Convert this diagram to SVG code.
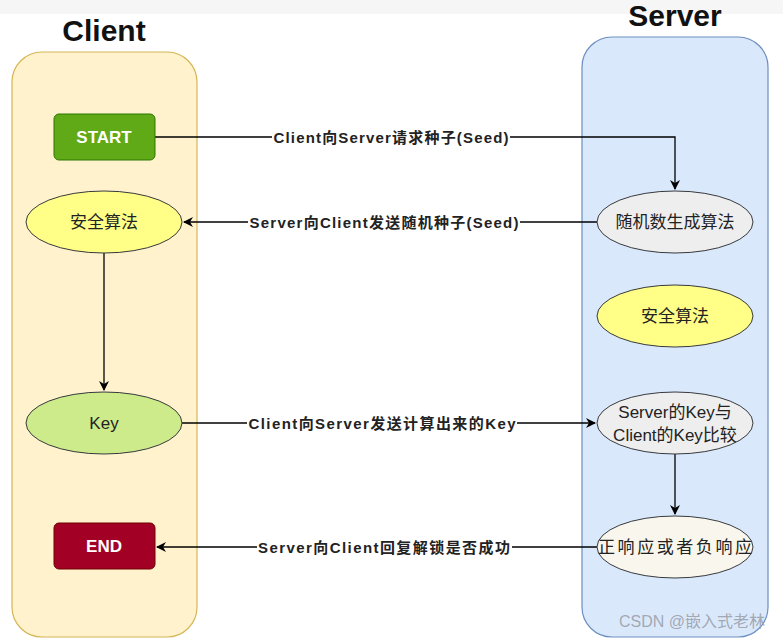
<svg xmlns="http://www.w3.org/2000/svg" width="783" height="640" viewBox="0 0 783 640">
<style>
.title{font-family:"Liberation Sans",Arial,sans-serif;font-weight:bold;font-size:30px;fill:#111;text-anchor:middle}
.node{font-family:"Liberation Sans","Noto Sans CJK SC",sans-serif;font-size:17px;fill:#222;text-anchor:middle;dominant-baseline:central}
.btn{font-family:"Liberation Sans",Arial,sans-serif;font-weight:bold;font-size:17px;fill:#fff;text-anchor:middle;dominant-baseline:central}
.lbl{font-family:"Liberation Sans","Noto Sans CJK SC",sans-serif;font-weight:bold;font-size:15px;fill:#222;text-anchor:middle;dominant-baseline:central}
.conn{fill:none;stroke:#000;stroke-width:1.3}
.lblbg{fill:#fff}
.ell{stroke:#36393d;stroke-width:1}
</style>
<defs>
<marker id="arr" viewBox="0 0 10 10" refX="9" refY="5" markerWidth="10" markerHeight="10" markerUnits="userSpaceOnUse" orient="auto">
<path d="M0,0 L10,5 L0,10 L3,5 Z" fill="#000"/>
</marker>
</defs>
<rect x="0" y="0" width="783" height="640" fill="#fff"/>
<rect x="0" y="0" width="783" height="14" fill="#f6f6f6"/>
<g id="lane-client">
<rect x="12" y="52" width="185" height="585" rx="30" fill="#fff2cc" stroke="#d6b656" stroke-width="1.2"/>
<text class="title" x="104" y="41">Client</text>
</g>
<g id="lane-server">
<rect x="582" y="37" width="186" height="600" rx="30" fill="#dae8fc" stroke="#6c8ebf" stroke-width="1.2"/>
<text class="title" x="675" y="26">Server</text>
</g>
<g id="connectors">
<path class="conn" d="M155,137 H675 V189" marker-end="url(#arr)"/>
<rect class="lblbg" x="272" y="129" width="238" height="16"/>
<text class="lbl" x="391" y="137" textLength="235" lengthAdjust="spacing">Client向Server请求种子(Seed)</text>
<path class="conn" d="M597,222 H184" marker-end="url(#arr)"/>
<rect class="lblbg" x="248" y="214" width="272" height="16"/>
<text class="lbl" x="384" y="222" textLength="269" lengthAdjust="spacing">Server向Client发送随机种子(Seed)</text>
<path class="conn" d="M104,253 V390" marker-end="url(#arr)"/>
<path class="conn" d="M182,423 H595" marker-end="url(#arr)"/>
<rect class="lblbg" x="247" y="415" width="270" height="16"/>
<text class="lbl" x="382" y="423" textLength="267" lengthAdjust="spacing">Client向Server发送计算出来的Key</text>
<path class="conn" d="M675,454 V514" marker-end="url(#arr)"/>
<path class="conn" d="M597,547 H157" marker-end="url(#arr)"/>
<rect class="lblbg" x="257" y="539" width="255" height="16"/>
<text class="lbl" x="384" y="547" textLength="252" lengthAdjust="spacing">Server向Client回复解锁是否成功</text>
</g>
<g id="start">
<rect x="54" y="114" width="101" height="46" rx="5" fill="#60a917" stroke="#2d7600"/>
<text class="btn" x="104" y="137">START</text>
</g>
<g id="client-algo">
<ellipse class="ell" cx="104" cy="222" rx="78" ry="31" fill="#ffff88"/>
<text class="node" x="104" y="222">安全算法</text>
</g>
<g id="key">
<ellipse class="ell" cx="104" cy="423" rx="78" ry="31" fill="#cdeb8b"/>
<text class="node" x="104" y="423">Key</text>
</g>
<g id="end">
<rect x="54" y="523" width="101" height="46" rx="5" fill="#a20025" stroke="#6f0000"/>
<text class="btn" x="104" y="546">END</text>
</g>
<g id="random-gen">
<ellipse class="ell" cx="675" cy="222" rx="78" ry="31" fill="#eeeeee"/>
<text class="node" x="675" y="222">随机数生成算法</text>
</g>
<g id="server-algo">
<ellipse class="ell" cx="675" cy="316" rx="78" ry="31" fill="#ffff88"/>
<text class="node" x="675" y="316">安全算法</text>
</g>
<g id="compare">
<ellipse class="ell" cx="675" cy="423" rx="78" ry="31" fill="#eeeeee"/>
<text class="node" x="675" y="412">Server的Key与</text>
<text class="node" x="675" y="435">Client的Key比较</text>
</g>
<g id="response">
<ellipse class="ell" cx="675" cy="547" rx="78" ry="31" fill="#f9f7ed"/>
<text class="node" x="675" y="547" textLength="154" lengthAdjust="spacing">正响应或者负响应</text>
</g>
<text x="765" y="627" font-family="Liberation Sans,Noto Sans CJK SC,sans-serif" font-size="16" fill="#9aa0a8" fill-opacity="0.9" text-anchor="end">CSDN @嵌入式老林</text>
</svg>
